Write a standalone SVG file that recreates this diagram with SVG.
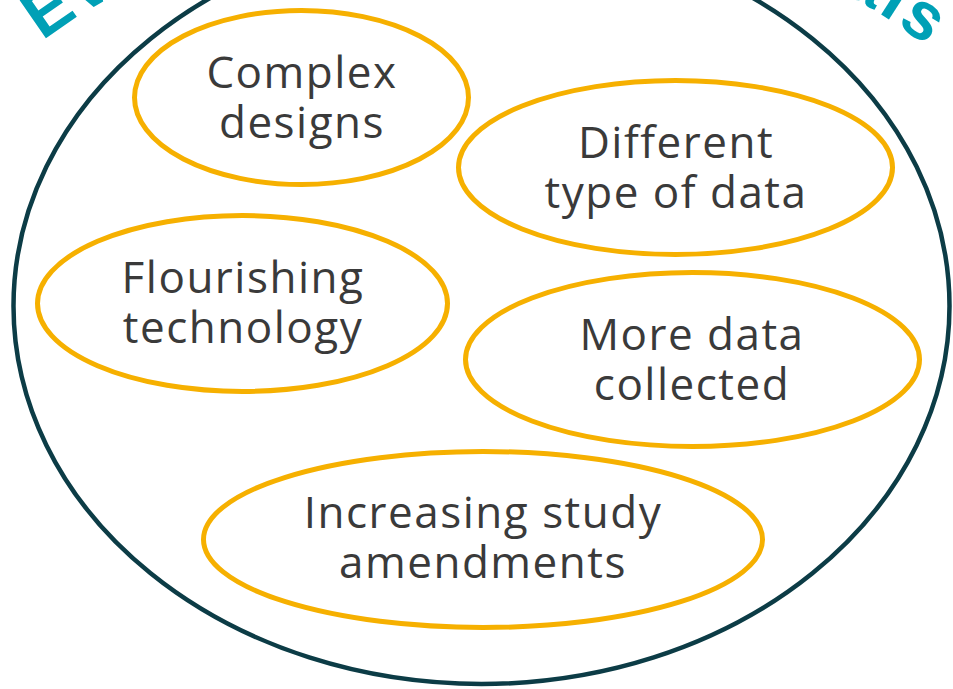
<svg xmlns="http://www.w3.org/2000/svg" xmlns:xlink="http://www.w3.org/1999/xlink" width="953" height="689" viewBox="0 0 953 689">
  <style>
    .bubble { fill: none; stroke: #f6b000; stroke-width: 5; }
    .label { font-family: "Open Sans", "Liberation Sans", sans-serif; font-size: 44px; fill: #3a3a3a; text-anchor: middle; letter-spacing: 1.5px; }
    .title { font-family: "Liberation Sans", Arial, sans-serif; font-weight: bold; font-size: 67px; fill: #00a0b6; }
  </style>
  <defs>
    <path id="titleArc" d="M -106 305 A 587 397 0 0 1 1068 305"/>
  </defs>
  <rect width="953" height="689" fill="#ffffff"/>
  <g id="title">
    <text class="title"><textPath xlink:href="#titleArc" href="#titleArc" startOffset="314" textLength="940" lengthAdjust="spacing">Evolution of Clinical Trials</textPath></text>
  </g>
  <g id="frame">
    <ellipse cx="481.5" cy="306" rx="468" ry="378" fill="none" stroke="#0c3c46" stroke-width="4.5"/>
  </g>
  <g id="connectors"/>
  <g id="complex-designs">
    <ellipse class="bubble" cx="301.5" cy="97.5" rx="167" ry="87"/>
    <text class="label"><tspan x="302" y="88">Complex</tspan><tspan x="302" y="138">designs</tspan></text>
  </g>
  <g id="different-type-of-data">
    <ellipse class="bubble" cx="675.5" cy="167.5" rx="217" ry="87"/>
    <text class="label"><tspan x="676" y="158">Different</tspan><tspan x="676" y="208">type of data</tspan></text>
  </g>
  <g id="flourishing-technology">
    <ellipse class="bubble" cx="242.5" cy="303.5" rx="205" ry="88"/>
    <text class="label"><tspan x="243" y="293">Flourishing</tspan><tspan x="243" y="343">technology</tspan></text>
  </g>
  <g id="more-data-collected">
    <ellipse class="bubble" cx="692.5" cy="359.5" rx="227" ry="87"/>
    <text class="label"><tspan x="692" y="350">More data</tspan><tspan x="692" y="400">collected</tspan></text>
  </g>
  <g id="increasing-study-amendments">
    <ellipse class="bubble" cx="483" cy="539.5" rx="279.5" ry="88"/>
    <text class="label"><tspan x="483" y="528">Increasing study</tspan><tspan x="483" y="578">amendments</tspan></text>
  </g>
</svg>
